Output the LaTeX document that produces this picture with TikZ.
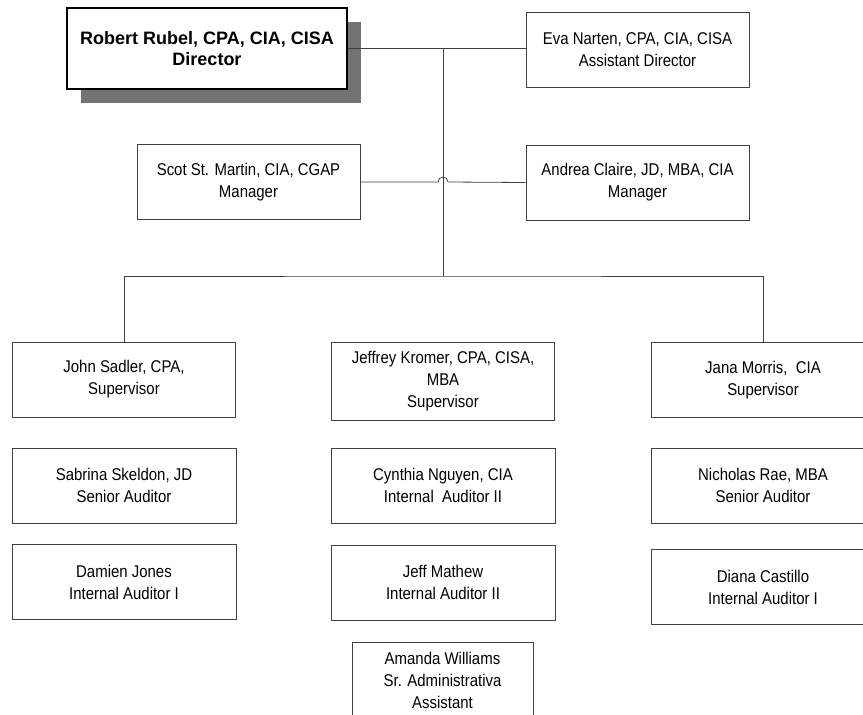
\documentclass[tikz,border=0pt]{standalone}
\usepackage{fontspec}
\setmainfont{Liberation Sans}
\newfontfamily\narrowfont[FakeStretch=0.88]{Liberation Sans}
\usepackage{tikz}
\usetikzlibrary{calc,shadows}

\begin{document}
\begin{tikzpicture}[x=1pt,y=-1pt,line width=0.8pt,
    box/.style={draw=black!75,fill=white,align=center,inner sep=0pt,
      minimum width=223pt,minimum height=75pt,
      font=\narrowfont\fontsize{17}{22}\selectfont},
    link/.style={draw=black!75,line width=0.8pt}]
  \useasboundingbox (0,0) rectangle (863,715);
  % top
  \node[box,line width=1.3pt,draw=black,minimum width=280pt,minimum height=81pt,
    font=\bfseries\fontsize{18}{21}\selectfont,
    drop shadow={shadow xshift=14pt,shadow yshift=-14pt,fill=black!55,opacity=1}]
    (dir) at (207,48.5) {Robert Rubel, CPA, CIA, CISA\\Director};
  \node[box] (eva) at (637.5,49.5) {Eva Narten, CPA, CIA, CISA\\Assistant Director};
  \node[box] (scot) at (248.5,182) {Scot St. Martin, CIA, CGAP\\Manager};
  \node[box] (andrea) at (637.5,182.5) {Andrea Claire, JD, MBA, CIA\\Manager};
  \coordinate (hub) at (443,49);
  \coordinate (bus) at (443,276);
  % supervisors
  \node[box] (john) at (124,379.5) {John Sadler, CPA,\\Supervisor};
  \node[box,minimum height=78pt] (jeffrey) at (443,381) {Jeffrey Kromer, CPA, CISA,\\MBA\\Supervisor};
  \node[box,minimum width=224pt] (jana) at (763,380) {Jana Morris,~ CIA\\Supervisor};
  % auditors
  \foreach \n/\x/\y/\t in {
      sabrina/124/485.5/{Sabrina Skeldon, JD\\Senior Auditor},
      cynthia/443/485.5/{Cynthia Nguyen, CIA\\Internal~ Auditor II},
      nicholas/763/485.5/{Nicholas Rae, MBA\\Senior Auditor},
      damien/124/582/{Damien Jones\\Internal Auditor I},
      jeff/443/582.5/{Jeff Mathew\\Internal Auditor II},
      diana/763/587/{Diana Castillo\\Internal Auditor I}}{
    \node[box,minimum width=224pt] (\n) at (\x,\y) {\t};
  }
  \node[box,minimum width=181pt,minimum height=76pt] (amanda) at (442.5,680)
    {Amanda Williams\\Sr. Administrativa\\Assistant};
  % connectors
  \draw[link] (dir.east) -- (dir.east -| eva.west);
  \draw[link] (hub) -- (bus);
  \draw[link] (scot.east) -- ([xshift=-5pt]scot.east -| hub) arc (180:0:5pt) -- (andrea.west);
  \draw[link] (john.north) |- (bus) -| (jana.north);
\end{tikzpicture}
\end{document}
